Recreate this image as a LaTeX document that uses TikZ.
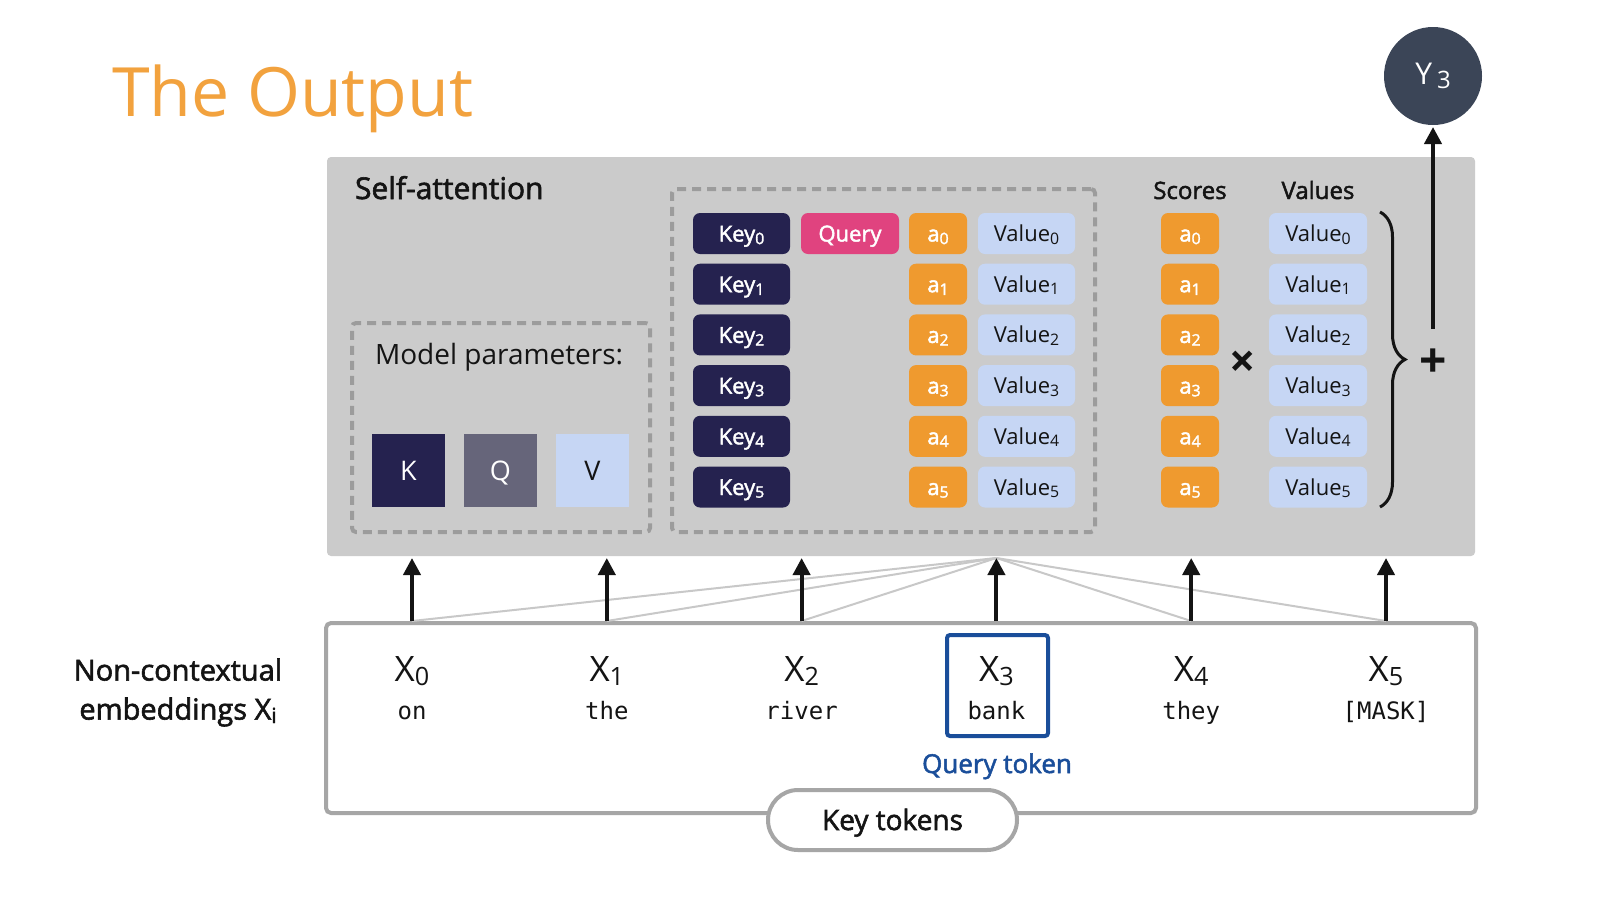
\documentclass[tikz,border=0pt]{standalone}
\usepackage{fontspec}
\setmainfont{Open Sans}
\setmonofont{DejaVu Sans Mono}
\newfontfamily\medfont{Open Sans}[FakeBold=2]
\usetikzlibrary{shapes, arrows, arrows.meta, decorations.pathreplacing}

\definecolor{titleorange}{HTML}{F2A23E}
\definecolor{panelgray}{HTML}{CBCBCB}
\definecolor{dashgray}{HTML}{9C9C9C}
\definecolor{boxgray}{HTML}{A6A6A6}
\definecolor{fangray}{HTML}{C8C8C8}
\definecolor{keyblue}{HTML}{25224F}
\definecolor{querypink}{HTML}{E0437F}
\definecolor{scoreorange}{HTML}{EF9A2F}
\definecolor{valueblue}{HTML}{C6D6F4}
\definecolor{qgray}{HTML}{66657A}
\definecolor{ydark}{HTML}{3B4557}
\definecolor{tokenblue}{HTML}{1A4E9A}
\definecolor{inkblack}{HTML}{141414}

\newcommand{\setfs}[1]{\fontsize{#1}{#1}\selectfont}
\newcommand{\sbs}[1]{\raisebox{-0.12em}{\scalebox{0.72}{#1}}}

\tikzset{
  cell/.style={rounded corners=7pt, minimum height=41pt, text height=16pt, text depth=0pt, inner sep=0pt, font=\setfs{22}},
  keycell/.style={cell, fill=keyblue, text=white, minimum width=97pt, font=\medfont\setfs{22}},
  querycell/.style={cell, fill=querypink, text=white, minimum width=98pt, font=\medfont\setfs{22}},
  scorecell/.style={cell, fill=scoreorange, text=white, minimum width=58pt, font=\medfont\setfs{22}},
  valuecell/.style={cell, fill=valueblue, text=inkblack, minimum width=97pt},
  param/.style={minimum width=73pt, minimum height=73pt, text height=19pt, text depth=0pt, inner sep=0pt, font=\setfs{27}},
  dashbox/.style={draw=dashgray, line width=4pt, dash pattern=on 9pt off 6pt, rounded corners=4pt, inner sep=0pt},
  tokx/.style={anchor=base, inner sep=0pt, font=\setfs{35}, text=inkblack},
  tokword/.style={anchor=base, inner sep=0pt, font=\ttfamily\setfs{24}, text=inkblack},
  fan/.style={draw=fangray, line width=2pt},
}

\begin{document}
\begin{tikzpicture}[x=1pt, y=-1pt, >={Triangle[length=17pt,width=17pt]}, line width=4pt]
  \fill[white] (0,0) rectangle (1600,900);
  \useasboundingbox (0,0) rectangle (1600,900);

  \node[anchor=base west, inner sep=0pt, font=\setfs{68}, text=titleorange] (title) at (110,116) {The Output};

  % self-attention panel
  \node[fill=panelgray, rounded corners=4pt, minimum width=1148pt, minimum height=399pt, inner sep=0pt] (panel) at (901,356.5) {};
  \node[anchor=base west, inner sep=0pt, font=\medfont\setfs{30}, text=inkblack] (satt) at (353,199) {Self-attention};

  \node[dashbox, minimum width=298pt, minimum height=209pt] (params) at (501,427.5) {};
  \node[anchor=base west, inner sep=0pt, font=\setfs{28}, text=inkblack] (plabel) at (373,364) {Model parameters:};
  \node[param, fill=keyblue, text=white] (pk) at (408.5,470.5) {K};
  \node[param, fill=qgray, text=white] (pq) at (500.5,470.5) {Q};
  \node[param, fill=valueblue, text=inkblack] (pv) at (592.5,470.5) {V};

  \node[dashbox, minimum width=423pt, minimum height=343pt] (attbox) at (883.5,360.5) {};
  \node[keycell] (key0) at (741.5,233.5) {Key\sbs{0}};
  \node[keycell] (key1) at (741.5,284.2) {Key\sbs{1}};
  \node[keycell] (key2) at (741.5,334.9) {Key\sbs{2}};
  \node[keycell] (key3) at (741.5,385.6) {Key\sbs{3}};
  \node[keycell] (key4) at (741.5,436.3) {Key\sbs{4}};
  \node[keycell] (key5) at (741.5,487.0) {Key\sbs{5}};
  \node[querycell] (qry) at (850,233.5) {Query};
  \node[scorecell] (att0) at (938,233.5) {a\sbs{0}};
  \node[scorecell] (att1) at (938,284.2) {a\sbs{1}};
  \node[scorecell] (att2) at (938,334.9) {a\sbs{2}};
  \node[scorecell] (att3) at (938,385.6) {a\sbs{3}};
  \node[scorecell] (att4) at (938,436.3) {a\sbs{4}};
  \node[scorecell] (att5) at (938,487.0) {a\sbs{5}};
  \node[valuecell] (val0) at (1026.5,233.5) {Value\sbs{0}};
  \node[valuecell] (val1) at (1026.5,284.2) {Value\sbs{1}};
  \node[valuecell] (val2) at (1026.5,334.9) {Value\sbs{2}};
  \node[valuecell] (val3) at (1026.5,385.6) {Value\sbs{3}};
  \node[valuecell] (val4) at (1026.5,436.3) {Value\sbs{4}};
  \node[valuecell] (val5) at (1026.5,487.0) {Value\sbs{5}};

  % weighted sum
  \node[anchor=base, inner sep=0pt, font=\medfont\setfs{24}, text=inkblack] (slabel) at (1190,199) {Scores};
  \node[anchor=base, inner sep=0pt, font=\medfont\setfs{24}, text=inkblack] (vlabel) at (1318,199) {Values};
  \node[scorecell] (scr0) at (1190,233.5) {a\sbs{0}};
  \node[scorecell] (scr1) at (1190,284.2) {a\sbs{1}};
  \node[scorecell] (scr2) at (1190,334.9) {a\sbs{2}};
  \node[scorecell] (scr3) at (1190,385.6) {a\sbs{3}};
  \node[scorecell] (scr4) at (1190,436.3) {a\sbs{4}};
  \node[scorecell] (scr5) at (1190,487.0) {a\sbs{5}};
  \node[valuecell, minimum width=98pt] (sval0) at (1318,233.5) {Value\sbs{0}};
  \node[valuecell, minimum width=98pt] (sval1) at (1318,284.2) {Value\sbs{1}};
  \node[valuecell, minimum width=98pt] (sval2) at (1318,334.9) {Value\sbs{2}};
  \node[valuecell, minimum width=98pt] (sval3) at (1318,385.6) {Value\sbs{3}};
  \node[valuecell, minimum width=98pt] (sval4) at (1318,436.3) {Value\sbs{4}};
  \node[valuecell, minimum width=98pt] (sval5) at (1318,487.0) {Value\sbs{5}};
  \node[inner sep=0pt, font=\bfseries\setfs{46}, text=inkblack] (times) at (1243,364) {×};
  \coordinate (btop) at (1380,212);
  \coordinate (bbot) at (1380,507);
  \draw[decorate, decoration={brace, amplitude=25pt}, line width=3pt, inkblack] (btop) -- (bbot);
  \node[inner sep=0pt, minimum height=64pt, font=\bfseries\setfs{48}, text=inkblack] (plus) at (1433,363) {+};
  \node[circle, fill=ydark, minimum size=98pt, inner sep=0pt, text=white, font=\setfs{30}] (y3) at (1433,76) {Y\,\raisebox{-0.15em}{\scalebox{0.8}{3}}};
  \draw[->, inkblack] (plus) -- (y3);

  % input tokens
  \node[draw=boxgray, fill=white, rounded corners=5pt, minimum width=1150pt, minimum height=190pt, inner sep=0pt] (tokbox) at (901,718) {};
  \node[draw=tokenblue, rounded corners=3pt, minimum width=101pt, minimum height=101pt, inner sep=0pt] (qbox) at (997.5,685.5) {};
  \node[tokx] (x0) at (412,681) {X\sbs{0}};
  \node[tokx] (x1) at (606.8,681) {X\sbs{1}};
  \node[tokx] (x2) at (801.6,681) {X\sbs{2}};
  \node[tokx] (x3) at (996.4,681) {X\sbs{3}};
  \node[tokx] (x4) at (1191.2,681) {X\sbs{4}};
  \node[tokx] (x5) at (1386,681) {X\sbs{5}};
  \node[tokword] (w0) at (412,719) {on};
  \node[tokword] (w1) at (606.8,719) {the};
  \node[tokword] (w2) at (801.6,719) {river};
  \node[tokword] (w3) at (996.4,719) {bank};
  \node[tokword] (w4) at (1191.2,719) {they};
  \node[tokword] (w5) at (1386,719) {[MASK]};
  \node[anchor=base, inner sep=0pt, font=\medfont\setfs{26}, text=tokenblue] (qtok) at (997,773) {Query token};
  \node[draw=boxgray, fill=white, rounded corners=30pt, minimum width=249pt, minimum height=60pt, text height=20pt, text depth=0pt, inner sep=0pt, font=\medfont\setfs{28}, text=inkblack] (ktok) at (892.5,820) {Key tokens};
  \node[align=center, inner sep=0pt, font=\medfont\fontsize{29}{39}\selectfont, text=inkblack] (nctx) at (178,692.5) {Non-contextual\\embeddings X\sbs{i}};

  \draw[fan] (x3 |- panel.south) -- (x0 |- tokbox.north);
  \draw[fan] (x3 |- panel.south) -- (x1 |- tokbox.north);
  \draw[fan] (x3 |- panel.south) -- (x2 |- tokbox.north);
  \draw[fan] (x3 |- panel.south) -- (x4 |- tokbox.north);
  \draw[fan] (x3 |- panel.south) -- (x5 |- tokbox.north);
  \draw[->, inkblack] (x0 |- tokbox.north) -- (x0 |- panel.south);
  \draw[->, inkblack] (x1 |- tokbox.north) -- (x1 |- panel.south);
  \draw[->, inkblack] (x2 |- tokbox.north) -- (x2 |- panel.south);
  \draw[->, inkblack] (x3 |- tokbox.north) -- (x3 |- panel.south);
  \draw[->, inkblack] (x4 |- tokbox.north) -- (x4 |- panel.south);
  \draw[->, inkblack] (x5 |- tokbox.north) -- (x5 |- panel.south);
\end{tikzpicture}
\end{document}
